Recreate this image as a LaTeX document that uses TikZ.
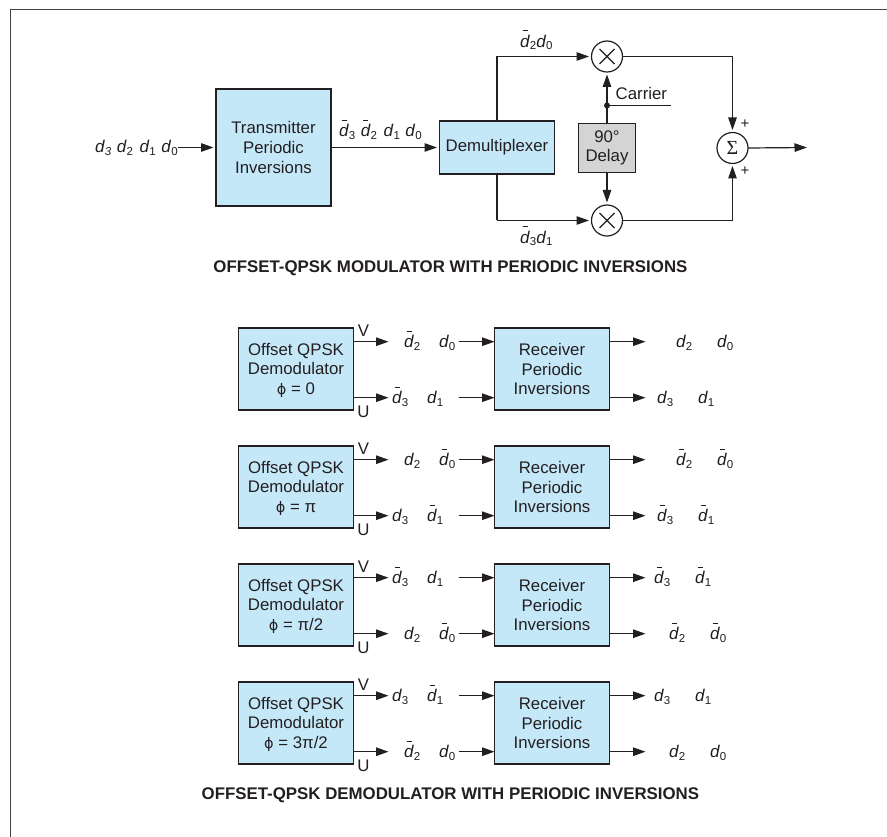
\documentclass[tikz,border=0pt]{standalone}
\usepackage{fontspec}
\setmainfont{Liberation Sans}
\newfontfamily\phifont{DejaVu Sans}
\newfontfamily\sigmafont{Liberation Serif}
\usetikzlibrary{arrows.meta,calc}
\definecolor{boxblue}{HTML}{C5E8F9}
\definecolor{boxgray}{HTML}{D4D4D4}
\definecolor{ink}{HTML}{231F20}
\newcommand{\subd}[1]{\raisebox{-2.5pt}{\fontsize{11.5}{12}\selectfont #1}}
\newcommand{\dd}[1]{\textit{d}\subd{#1}}
\newcommand{\db}[1]{\makebox[0pt][l]{\hspace{2.5pt}\rule[16.2pt]{5pt}{0.9pt}}\dd{#1}}
\newcommand{\phisym}{\smash{\phifont\fontsize{14.5}{14}\selectfont ϕ}}
\tikzset{
  x=1pt,y=-1pt,
  every node/.style={text=ink,font=\fontsize{16.8}{19.6}\selectfont,inner sep=0pt,outer sep=0pt},
  blockbox/.style={draw=ink,line width=1.2pt,fill=boxblue,align=center,minimum width=#1},
  graybox/.style={draw=ink,line width=1.2pt,fill=boxgray,align=center},
  mixer/.style={circle,draw=ink,line width=1.2pt,fill=white,minimum size=31pt},
  wire/.style={draw=ink,line width=1.2pt},
  arrowed/.style={wire,-{Triangle[length=12.5pt,width=8.5pt]}},
  gapped/.style={arrowed,shorten >=2.5pt},
  sig/.style={anchor=base west,font=\fontsize{17}{19}\selectfont},
  captext/.style={font=\fontsize{16.85}{19}\selectfont\bfseries},
  small/.style={font=\fontsize{15}{16}\selectfont}
}
\begin{document}
\begin{tikzpicture}
\useasboundingbox (0,0) rectangle (887,837);
\fill[white] (0,0) rectangle (887,837);
\draw[draw=ink!85,line width=1.2pt] (10.5,837) -- (10.5,9.8) -- (887,9.8);

% modulator
\node[blockbox=115pt,minimum height=117pt] (tx) at (273.5,147.5) {Transmitter\\Periodic\\Inversions};
\node[blockbox=115pt,minimum height=53pt] (dm) at (497,147.5) {Demultiplexer};
\node[mixer] (m1) at (607,56.5) {};
\node[mixer] (m2) at (607,220.5) {};
\draw[wire] ($(m1)+(-7.5,-7.5)$)--($(m1)+(7.5,7.5)$) ($(m1)+(-7.5,7.5)$)--($(m1)+(7.5,-7.5)$);
\draw[wire] ($(m2)+(-7.5,-7.5)$)--($(m2)+(7.5,7.5)$) ($(m2)+(-7.5,7.5)$)--($(m2)+(7.5,-7.5)$);
\node[mixer,font=\fontsize{20}{20}\selectfont\sigmafont] (sm) at (732.5,148) {Σ};
\node[graybox,minimum width=57pt,minimum height=49pt] (dl) at (607,148) {90°\\Delay};
\coordinate (in) at (178,147.5);
\coordinate (junc) at (607,105.5);
\coordinate (carr) at (671,105.5);
\coordinate (smout) at (807,147.5);
\coordinate (dmt) at (497,56.5);
\coordinate (dmb) at (497,220.5);
\coordinate (sumt) at (732.5,56.5);
\coordinate (sumb) at (732.5,220.5);

\node[sig] (l0) at (95,153) {\textit{d}\subd{\textit{3}}\hspace{5.5pt}\dd{2}\hspace{6.5pt}\dd{1}\hspace{5.5pt}\dd{0}};
\draw[gapped] (in) -- (tx.west);
\draw[gapped] (tx.east) -- (dm.west);
\node[sig] (l1) at (339,137) {\db{3}\hspace{5.5pt}\db{2}\hspace{6.5pt}\dd{1}\hspace{5.5pt}\dd{0}};
\draw[wire] (dm.north) -- (dmt);
\draw[gapped] (dmt) -- (m1.west);
\draw[wire] (dm.south) -- (dmb);
\draw[gapped] (dmb) -- (m2.west);
\node[sig] (l2) at (520,47.5) {\db{2}\dd{0}};
\node[sig] (l3) at (520,243.5) {\db{3}\dd{1}};
\draw[gapped] (dl.north) -- (m1.south);
\draw[gapped] (dl.south) -- (m2.north);
\draw[wire] (junc) -- (carr);
\fill[ink] (junc) circle (3pt);
\node[anchor=base west] (cr) at (615.7,100) {Carrier};
\draw[wire] (m1.east) -- (sumt);
\draw[gapped] (sumt) -- (sm.north);
\draw[wire] (m2.east) -- (sumb);
\draw[gapped] (sumb) -- (sm.south);
\draw[arrowed] (sm.east) -- (smout);
\node[small] (p1) at (745,124.3) {+};
\node[small] (p2) at (745,170.7) {+};
\node[captext] (c1) at (450.4,268) {OFFSET-QPSK MODULATOR WITH PERIODIC INVERSIONS};

% demodulator rows
\newcommand{\demrow}[9]{%
  % #1 prefix, #2 y centre, #3 phi, #4/#5 upper mid, #6/#7 lower mid, #8 upper out, #9 lower out
  \node[blockbox=115pt,minimum height=82pt] (#1a) at (296,#2) {Offset QPSK\\Demodulator\\#3};
  \node[blockbox=115pt,minimum height=82pt] (#1b) at (552,#2) {Receiver\\Periodic\\Inversions};
  \coordinate (#1v) at ($(#1a.east)+(0,-27.3)$);
  \coordinate (#1u) at ($(#1a.east)+(0,28.7)$);
  \coordinate (#1vt) at ($(#1a.east)+(35,-27.3)$);
  \coordinate (#1ut) at ($(#1a.east)+(35,28.7)$);
  \coordinate (#1vs) at ($(#1b.west)+(-36,-27.3)$);
  \coordinate (#1us) at ($(#1b.west)+(-36,28.7)$);
  \coordinate (#1ve) at ($(#1b.west)+(0,-27.3)$);
  \coordinate (#1ue) at ($(#1b.west)+(0,28.7)$);
  \coordinate (#1vo) at ($(#1b.east)+(36,-27.3)$);
  \coordinate (#1uo) at ($(#1b.east)+(36,28.7)$);
  \coordinate (#1vb) at ($(#1b.east)+(0,-27.3)$);
  \coordinate (#1ub) at ($(#1b.east)+(0,28.7)$);
  \draw[arrowed] (#1v) -- (#1vt);
  \draw[arrowed] (#1u) -- (#1ut);
  \draw[arrowed] (#1vs) -- (#1ve);
  \draw[arrowed] (#1us) -- (#1ue);
  \draw[arrowed] (#1vb) -- (#1vo);
  \draw[arrowed] (#1ub) -- (#1uo);
  \node (#1V) at ($(#1a.east)+(10,-38.3)$) {V};
  \node (#1U) at ($(#1a.east)+(10,42.7)$) {U};
  #4 #5 #6 #7 #8 #9
}
\newcommand{\sigat}[4]{\node[sig] (#1) at (#2,#3) {#4};}

\demrow{ra}{369}{\phisym{} = 0}
 {\sigat{ra1}{404}{347.7}{\db{2}}\sigat{ra2}{439}{347.7}{\dd{0}}}{}
 {\sigat{ra3}{392}{403.7}{\db{3}}\sigat{ra4}{427}{403.7}{\dd{1}}}{}
 {\sigat{ra5}{676}{347.7}{\dd{2}}\sigat{ra6}{717}{347.7}{\dd{0}}}
 {\sigat{ra7}{657}{403.7}{\dd{3}}\sigat{ra8}{698}{403.7}{\dd{1}}}
\demrow{rb}{487}{\phisym{} = π}
 {\sigat{rb1}{404}{465.7}{\dd{2}}\sigat{rb2}{439}{465.7}{\db{0}}}{}
 {\sigat{rb3}{392}{521.7}{\dd{3}}\sigat{rb4}{427}{521.7}{\db{1}}}{}
 {\sigat{rb5}{676}{465.7}{\db{2}}\sigat{rb6}{717}{465.7}{\db{0}}}
 {\sigat{rb7}{657}{521.7}{\db{3}}\sigat{rb8}{698}{521.7}{\db{1}}}
\demrow{rc}{605}{\phisym{} = π/2}
 {\sigat{rc1}{392}{583.7}{\db{3}}\sigat{rc2}{427}{583.7}{\dd{1}}}{}
 {\sigat{rc3}{404}{639.7}{\dd{2}}\sigat{rc4}{439}{639.7}{\db{0}}}{}
 {\sigat{rc5}{654}{583.7}{\db{3}}\sigat{rc6}{695}{583.7}{\db{1}}}
 {\sigat{rc7}{669}{639.7}{\db{2}}\sigat{rc8}{710}{639.7}{\db{0}}}
\demrow{rd}{723}{\phisym{} = 3π/2}
 {\sigat{rd1}{392}{701.7}{\dd{3}}\sigat{rd2}{427}{701.7}{\db{1}}}{}
 {\sigat{rd3}{404}{757.7}{\db{2}}\sigat{rd4}{439}{757.7}{\dd{0}}}{}
 {\sigat{rd5}{654}{701.7}{\dd{3}}\sigat{rd6}{695}{701.7}{\dd{1}}}
 {\sigat{rd7}{669}{757.7}{\dd{2}}\sigat{rd8}{710}{757.7}{\dd{0}}}
\node[captext] (c2) at (450.4,795) {OFFSET-QPSK DEMODULATOR WITH PERIODIC INVERSIONS};
\end{tikzpicture}
\end{document}
